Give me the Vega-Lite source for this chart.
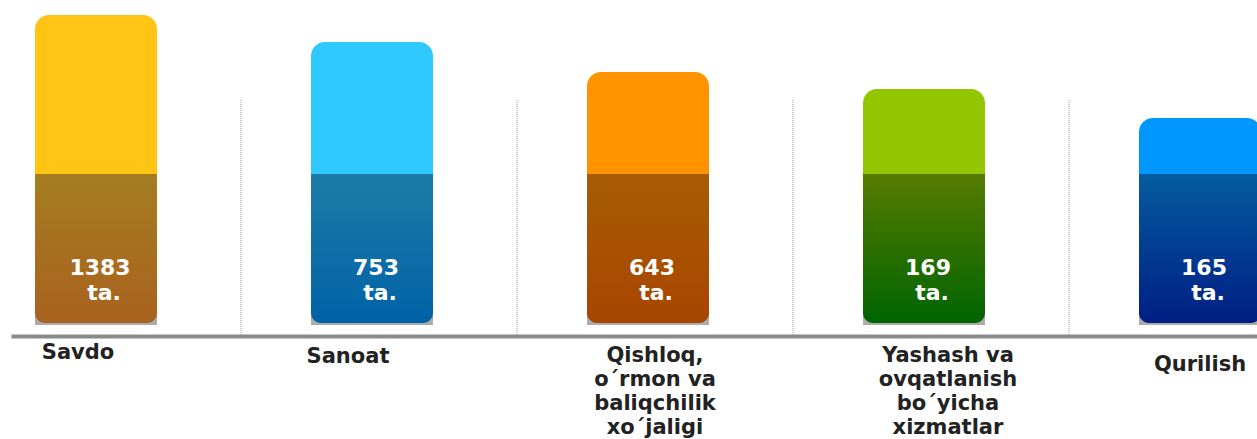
{
  "$schema": "https://vega.github.io/schema/vega-lite/v6.json",
  "width": 1257,
  "height": 336,
  "autosize": "none",
  "padding": {"left": 0, "right": 0, "top": 0, "bottom": 103},
  "background": "white",
  "config": {"view": {"stroke": null}},
  "data": {
    "values": [
      {"sector": "Savdo", "height": 321, "count": 1383},
      {"sector": "Sanoat", "height": 294, "count": 753},
      {"sector": "Qishloq,\no´rmon va\nbaliqchilik\nxo´jaligi", "height": 264, "count": 643},
      {"sector": "Yashash va\novqatlanish\nbo´yicha\nxizmatlar", "height": 247, "count": 169},
      {"sector": "Qurilish", "height": 218, "count": 165}
    ]
  },
  "encoding": {
    "x": {
      "field": "sector",
      "type": "nominal",
      "sort": null,
      "scale": {
        "domain": ["Savdo", "Sanoat", "Qishloq,\no´rmon va\nbaliqchilik\nxo´jaligi", "Yashash va\novqatlanish\nbo´yicha\nxizmatlar", "Qurilish"],
        "range": [11, 1285], "paddingInner": 0.558, "paddingOuter": 0.087
      },
      "axis": {
        "title": null,
        "labelAngle": 0,
        "ticks": false,
        "domainWidth": 4,
        "domainColor": "#8a8a8a",
        "labelFont": "DejaVu Sans",
        "labelFontWeight": "bold",
        "labelFontSize": 21,
        "labelColor": "#222222",
        "labelPadding": {
          "condition": [
            {"test": "datum.value == 'Savdo'", "value": 5},
            {"test": "datum.value == 'Sanoat'", "value": 9},
            {"test": "datum.value == 'Qurilish'", "value": 17}
          ],
          "value": 8
        },
        "labelLineHeight": 24,
        "labelBaseline": "top",
        "labelLimit": 0,
        "labelOverlap": false,
        "labelOffset": {
          "condition": [
            {"test": "datum.value == 'Savdo'", "value": -18},
            {"test": "datum.value == 'Sanoat'", "value": -24},
            {"test": "indexof(datum.value, 'Qishloq') == 0", "value": 7},
            {"test": "indexof(datum.value, 'Yashash') == 0", "value": 24}
          ],
          "value": 0
        },
        "labelExpr": "split(datum.label, '\\n')"
      }
    }
  },
  "layer": [
    {
      "transform": [{"filter": "datum.count != 1383"}],
      "mark": {"type": "rule", "strokeDash": [1, 1], "color": "#999999", "strokeWidth": 1, "xOffset": -131},
      "encoding": {
        "y": {"datum": 236, "type": "quantitative", "scale": {"domain": [0, 336], "nice": false, "zero": true}, "axis": null},
        "y2": {"datum": 0}
      }
    },
    {
      "mark": {"type": "bar", "color": "#ababab"},
      "encoding": {
        "y": {"datum": 40, "type": "quantitative"},
        "y2": {"datum": 11}
      }
    },
    {
      "mark": {"type": "bar", "cornerRadiusTopLeft": 14, "cornerRadiusTopRight": 14},
      "encoding": {
        "y": {"field": "height", "type": "quantitative"},
        "y2": {"datum": 162},
        "color": {
          "field": "sector",
          "type": "nominal",
          "sort": null,
          "scale": {
            "domain": ["Savdo", "Sanoat", "Qishloq,\no´rmon va\nbaliqchilik\nxo´jaligi", "Yashash va\novqatlanish\nbo´yicha\nxizmatlar", "Qurilish"],
            "range": ["#FFC414", "#2FC8FF", "#FF9300", "#92C600", "#0097FE"]
          },
          "legend": null
        }
      }
    },
    {
      "transform": [{"filter": "datum.count == 1383"}],
      "mark": {"type": "bar", "cornerRadiusBottomLeft": 10, "cornerRadiusBottomRight": 10,
        "color": {"gradient": "linear", "x1": 0, "y1": 0, "x2": 0, "y2": 1,
          "stops": [{"offset": 0, "color": "#A57D21"}, {"offset": 1, "color": "#A9621F"}]}},
      "encoding": {"y": {"datum": 162, "type": "quantitative"}, "y2": {"datum": 13}}
    },
    {
      "transform": [{"filter": "datum.count == 753"}],
      "mark": {"type": "bar", "cornerRadiusBottomLeft": 10, "cornerRadiusBottomRight": 10,
        "color": {"gradient": "linear", "x1": 0, "y1": 0, "x2": 0, "y2": 1,
          "stops": [{"offset": 0, "color": "#1C7CA8"}, {"offset": 1, "color": "#0062A6"}]}},
      "encoding": {"y": {"datum": 162, "type": "quantitative"}, "y2": {"datum": 13}}
    },
    {
      "transform": [{"filter": "datum.count == 643"}],
      "mark": {"type": "bar", "cornerRadiusBottomLeft": 10, "cornerRadiusBottomRight": 10,
        "color": {"gradient": "linear", "x1": 0, "y1": 0, "x2": 0, "y2": 1,
          "stops": [{"offset": 0, "color": "#A65C02"}, {"offset": 1, "color": "#A84600"}]}},
      "encoding": {"y": {"datum": 162, "type": "quantitative"}, "y2": {"datum": 13}}
    },
    {
      "transform": [{"filter": "datum.count == 169"}],
      "mark": {"type": "bar", "cornerRadiusBottomLeft": 10, "cornerRadiusBottomRight": 10,
        "color": {"gradient": "linear", "x1": 0, "y1": 0, "x2": 0, "y2": 1,
          "stops": [{"offset": 0, "color": "#577B00"}, {"offset": 1, "color": "#006400"}]}},
      "encoding": {"y": {"datum": 162, "type": "quantitative"}, "y2": {"datum": 13}}
    },
    {
      "transform": [{"filter": "datum.count == 165"}],
      "mark": {"type": "bar", "cornerRadiusBottomLeft": 10, "cornerRadiusBottomRight": 10,
        "color": {"gradient": "linear", "x1": 0, "y1": 0, "x2": 0, "y2": 1,
          "stops": [{"offset": 0, "color": "#055C9F"}, {"offset": 1, "color": "#001E84"}]}},
      "encoding": {"y": {"datum": 162, "type": "quantitative"}, "y2": {"datum": 13}}
    },
    {
      "mark": {"type": "text", "font": "DejaVu Sans", "fontWeight": "bold", "fontSize": 22, "color": "white", "baseline": "middle", "dx": 4},
      "encoding": {
        "y": {"datum": 68, "type": "quantitative"},
        "text": {"field": "count", "type": "nominal"}
      }
    },
    {
      "mark": {"type": "text", "font": "DejaVu Sans", "fontWeight": "bold", "fontSize": 22, "color": "white", "baseline": "middle", "dx": 8},
      "encoding": {
        "y": {"datum": 43, "type": "quantitative"},
        "text": {"value": "ta."}
      }
    }
  ]
}
